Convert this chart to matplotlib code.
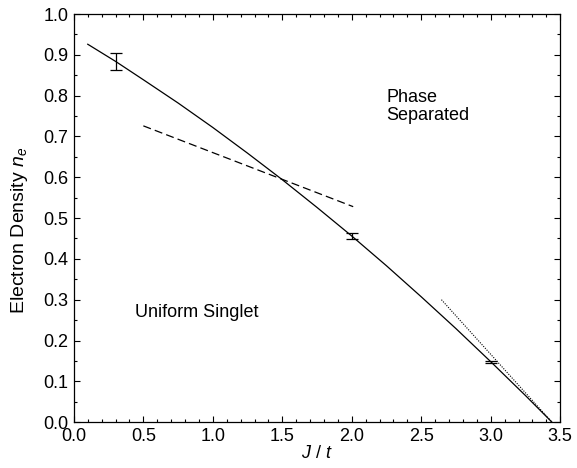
import matplotlib
matplotlib.use("Agg")
import matplotlib.pyplot as plt
from matplotlib.ticker import MultipleLocator, FormatStrFormatter

plt.rcParams['font.family'] = ['Liberation Sans', 'DejaVu Sans']
plt.rcParams['mathtext.fontset'] = 'custom'
plt.rcParams['mathtext.rm'] = 'Liberation Sans'
plt.rcParams['mathtext.it'] = 'Liberation Sans:italic'
plt.rcParams['lines.scale_dashes'] = False

# Phase boundary (solid)
boundary_x = [0.1, 0.3, 0.5, 0.75, 1.0, 1.25, 1.5, 1.75, 2.0, 2.25, 2.5, 2.75, 3.0, 3.25, 3.44]
boundary_y = [0.926, 0.884, 0.839, 0.782, 0.722, 0.659, 0.594, 0.526, 0.456,
              0.383, 0.307, 0.229, 0.148, 0.065, 0.0]

# Data points with error bars
pts_x = [0.3, 2.0, 3.0]
pts_y = [0.884, 0.456, 0.148]
pts_err = [0.021, 0.008, 0.003]

# Dashed line
dash_x = [0.5, 2.01]
dash_y = [0.726, 0.528]

# Dotted line
dot_x = [2.645, 3.44]
dot_y = [0.30, 0.0]

FS = 13

fig = plt.figure(figsize=(5.77, 4.68), dpi=100)
ax = fig.add_axes([0.128, 0.098, 0.843, 0.872])

ax.plot(boundary_x, boundary_y, color='black', lw=0.9)
ax.errorbar(pts_x, pts_y, yerr=pts_err, fmt='none', ecolor='black',
            elinewidth=0.9, capsize=4.3, capthick=0.9)
ax.plot(dash_x, dash_y, color='black', lw=0.9, dashes=(5.8, 3.0))
ax.plot(dot_x, dot_y, color='black', lw=0.8, dashes=(0.8, 1.0))

ax.text(2.25, 0.785, 'Phase', fontsize=FS, ha='left', va='baseline')
ax.text(2.25, 0.740, 'Separated', fontsize=FS, ha='left', va='baseline')
ax.text(0.44, 0.257, 'Uniform Singlet', fontsize=FS, ha='left', va='baseline')

ax.set_xlim(0, 3.5)
ax.set_ylim(0, 1.0)
ax.xaxis.set_major_locator(MultipleLocator(0.5))
ax.xaxis.set_minor_locator(MultipleLocator(0.1))
ax.yaxis.set_major_locator(MultipleLocator(0.1))
ax.yaxis.set_minor_locator(MultipleLocator(0.05))
ax.xaxis.set_major_formatter(FormatStrFormatter('%.1f'))
ax.yaxis.set_major_formatter(FormatStrFormatter('%.1f'))
ax.tick_params(which='both', direction='in', top=True, right=True,
               labelsize=FS, width=0.8)
ax.tick_params(which='major', length=4.5, pad=4)
ax.tick_params(which='minor', length=2.5)
for s in ax.spines.values():
    s.set_linewidth(0.9)

ax.set_xlabel('$J$ / $t$', fontsize=FS, labelpad=0)
ax.set_ylabel('Electron Density $n_e$', fontsize=14)
ax.yaxis.set_label_coords(-0.09, 0.47)

fig.savefig('out.png', dpi=100)
